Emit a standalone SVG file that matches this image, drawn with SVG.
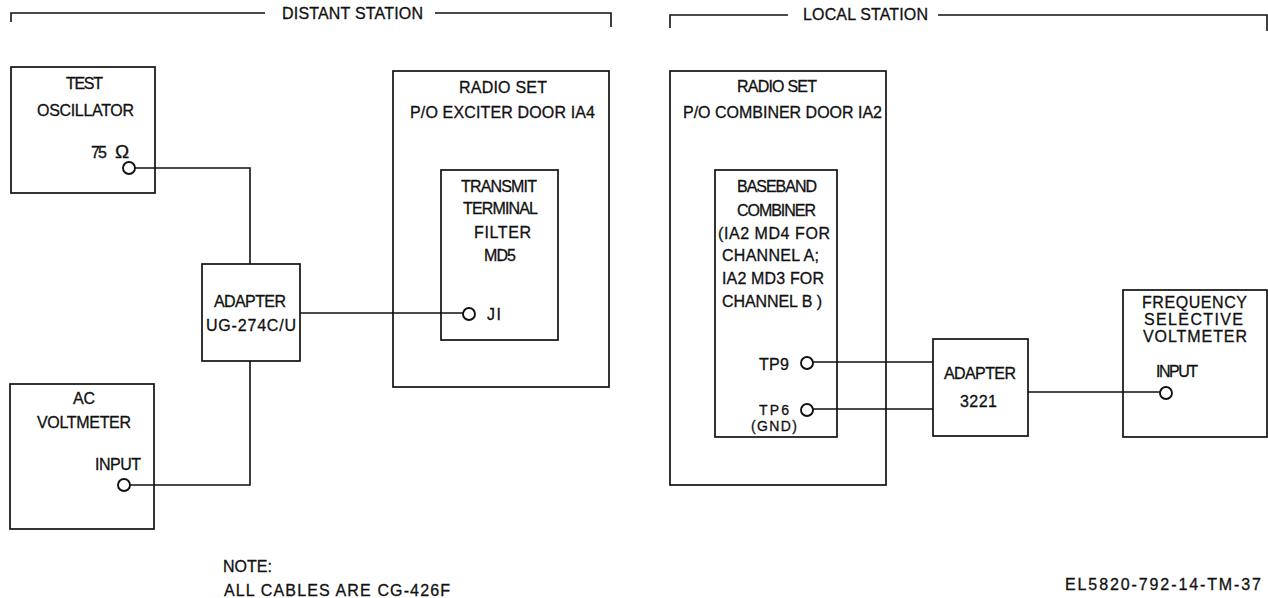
<svg xmlns="http://www.w3.org/2000/svg" width="1268" height="598" viewBox="0 0 1268 598">
<style>
.b{fill:none;stroke:#111;stroke-width:1.7}
.c{fill:none;stroke:#111;stroke-width:1.6}
.p{fill:#fff;stroke:#111;stroke-width:1.9}
text{font-family:"Liberation Sans",Arial,sans-serif;font-size:16px;fill:#111;stroke:#111;stroke-width:.3}
.t{font-size:14px}
</style>
<rect width="1268" height="598" fill="#fff"/>
<g id="connectors">
<path class="c" d="M135 168H250V264M250 361V485H130M300 313H464M813 362H933M813 409H933M1028 392H1160"/>
</g>
<g id="distant-bracket"><path class="c" d="M11 22V13H265M435 13H611V27"/><text x="282" y="19" textLength="141">DISTANT STATION</text></g>
<g id="local-bracket"><path class="c" d="M670 28V15H788M938 15H1267V31"/><text x="803" y="20" textLength="125">LOCAL STATION</text></g>
<g id="test-oscillator"><rect class="b" x="11" y="67" width="144" height="126"/><text x="66" y="89" textLength="37">TEST</text><text x="37" y="116" textLength="97">OSCILLATOR</text><text x="91" y="158" textLength="16">75</text><text x="115" y="158" style="font-size:19px">Ω</text><circle class="p" cx="129" cy="168" r="6"/></g>
<g id="ac-voltmeter"><rect class="b" x="10" y="384" width="144" height="145"/><text x="73" y="404" textLength="22">AC</text><text x="37" y="428" textLength="94">VOLTMETER</text><text x="95" y="470" textLength="46">INPUT</text><circle class="p" cx="124" cy="485" r="6"/></g>
<g id="adapter-ug"><rect class="b" x="202" y="264" width="98" height="97"/><text x="214" y="307" textLength="72">ADAPTER</text><text x="206" y="331" textLength="90">UG-274C/U</text></g>
<g id="radio-exciter"><rect class="b" x="393" y="71" width="216" height="316"/><text x="459" y="93" textLength="88">RADIO SET</text><text x="410" y="118" textLength="185">P/O EXCITER DOOR IA4</text></g>
<g id="transmit-filter"><rect class="b" x="441" y="170" width="117" height="170"/><text x="461" y="192" textLength="76">TRANSMIT</text><text x="463" y="214" textLength="75">TERMINAL</text><text x="474" y="238" textLength="57">FILTER</text><text x="484" y="261" textLength="32">MD5</text><circle class="p" cx="469" cy="314" r="6"/><text x="487" y="320" textLength="14">JI</text></g>
<g id="radio-combiner"><rect class="b" x="670" y="71" width="216" height="414"/><text x="737" y="92" textLength="80">RADIO SET</text><text x="683" y="118" textLength="199">P/O COMBINER DOOR IA2</text></g>
<g id="baseband-combiner"><rect class="b" x="715" y="170" width="122" height="267"/><text x="737" y="192" textLength="80">BASEBAND</text><text x="737" y="216" textLength="79">COMBINER</text><text x="718" y="239" textLength="112">(IA2 MD4 FOR</text><text x="722" y="261" textLength="97">CHANNEL A;</text><text x="722" y="284" textLength="102">IA2 MD3 FOR</text><text x="722" y="307" textLength="100">CHANNEL B )</text><text x="759" y="370" textLength="30">TP9</text><circle class="p" cx="807" cy="363" r="6"/><text class="t" x="759" y="415" textLength="30">TP6</text><text class="t" x="751" y="431" textLength="46">(GND)</text><circle class="p" cx="807" cy="410" r="6"/></g>
<g id="adapter-3221"><rect class="b" x="933" y="339" width="95" height="97"/><text x="944" y="379" textLength="72">ADAPTER</text><text x="960" y="407" textLength="37">3221</text></g>
<g id="frequency-voltmeter"><rect class="b" x="1123" y="290" width="144" height="147"/><text x="1142" y="308" textLength="105">FREQUENCY</text><text x="1144" y="325" textLength="99">SELECTIVE</text><text x="1143" y="342" textLength="104">VOLTMETER</text><text x="1156" y="377" textLength="42">INPUT</text><circle class="p" cx="1166" cy="393" r="6"/></g>
<g id="note"><text x="223" y="572" textLength="49">NOTE:</text><text x="224" y="596" textLength="226">ALL CABLES ARE CG-426F</text></g>
<text x="1065" y="590" textLength="196">EL5820-792-14-TM-37</text>
</svg>
